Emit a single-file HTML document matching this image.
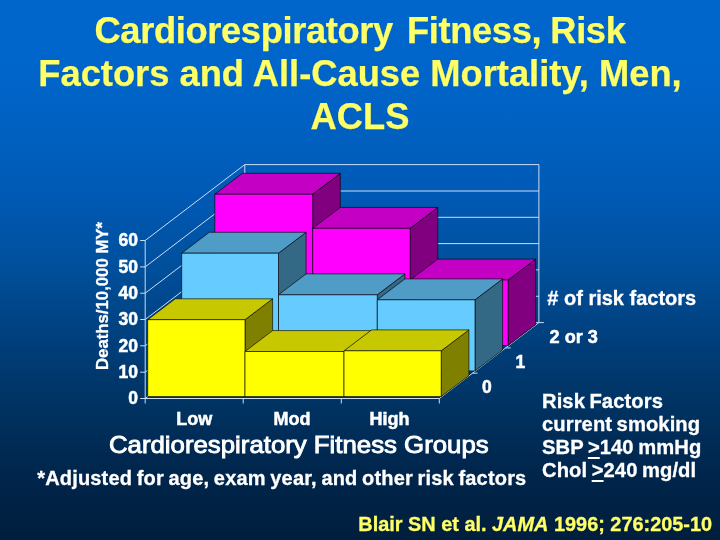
<!DOCTYPE html>
<html><head><meta charset="utf-8"><title>Cardiorespiratory Fitness, Risk Factors and All-Cause Mortality, Men, ACLS</title>
<style>
html,body{margin:0;padding:0}
body{width:720px;height:540px;overflow:hidden;position:relative;font-family:"Liberation Sans",Arial,sans-serif;font-weight:bold;color:#fff;
background:linear-gradient(to bottom,#0066cc 0%,#0065ca 13%,#0060c0 25%,#0059b4 37%,#004f9a 50%,#003f7c 63%,#003362 75%,#00264d 87%,#001e3d 100%)}
.t{position:absolute;white-space:nowrap;line-height:1}
#title{left:0;width:720px;top:8.7px;text-align:center;font-size:36.3px;line-height:43px;color:#ffff66;white-space:normal;-webkit-text-stroke:.25px #ffff66}
svg{position:absolute;left:0;top:0}
.ax{font-size:17.5px}
.k{-webkit-text-stroke:.5px #fff}
u{text-underline-offset:3.2px;text-decoration-thickness:1.6px}
.k2{-webkit-text-stroke:.3px #fff}
</style></head><body>
<div id="title" class="t"><span style="letter-spacing:-0.36px;word-spacing:3px"><span id="w1">Cardiorespiratory</span> <span id="w2" style="margin-left:1.3px">Fitness,</span> <span id="w3" style="margin-left:-3.7px">Risk</span></span><br>Factors and All-Cause Mortality, Men,<br>ACLS</div>
<svg width="720" height="540" viewBox="0 0 720 540" shape-rendering="auto">
<polyline fill="none" stroke="#c9ddf4" stroke-width="1" points="145.2,398.5 244.8,322.6 538.9,322.6"/>
<polyline fill="none" stroke="#c9ddf4" stroke-width="1" points="145.2,372.2 244.8,296.3 538.9,296.3"/>
<polyline fill="none" stroke="#c9ddf4" stroke-width="1" points="145.2,345.8 244.8,269.9 538.9,269.9"/>
<polyline fill="none" stroke="#c9ddf4" stroke-width="1" points="145.2,319.5 244.8,243.6 538.9,243.6"/>
<polyline fill="none" stroke="#c9ddf4" stroke-width="1" points="145.2,293.2 244.8,217.3 538.9,217.3"/>
<polyline fill="none" stroke="#c9ddf4" stroke-width="1" points="145.2,266.9 244.8,191.0 538.9,191.0"/>
<polyline fill="none" stroke="#c9ddf4" stroke-width="1" points="145.2,240.5 244.8,164.6 538.9,164.6"/>
<line stroke="#c9ddf4" x1="244.8" y1="322.6" x2="244.8" y2="164.6"/>
<line stroke="#c9ddf4" x1="538.9" y1="322.6" x2="538.9" y2="164.6"/>
<line stroke="#c9ddf4" x1="145.2" y1="398.5" x2="145.2" y2="240.5"/>
<polyline fill="none" stroke="#c9ddf4" points="145.2,398.5 439.3,398.5 538.9,322.6"/>
<line stroke="#c9ddf4" x1="140.2" y1="398.5" x2="145.2" y2="398.5"/>
<line stroke="#c9ddf4" x1="140.2" y1="372.2" x2="145.2" y2="372.2"/>
<line stroke="#c9ddf4" x1="140.2" y1="345.8" x2="145.2" y2="345.8"/>
<line stroke="#c9ddf4" x1="140.2" y1="319.5" x2="145.2" y2="319.5"/>
<line stroke="#c9ddf4" x1="140.2" y1="293.2" x2="145.2" y2="293.2"/>
<line stroke="#c9ddf4" x1="140.2" y1="266.9" x2="145.2" y2="266.9"/>
<line stroke="#c9ddf4" x1="140.2" y1="240.5" x2="145.2" y2="240.5"/>
<line stroke="#c9ddf4" x1="145.2" y1="398.5" x2="145.2" y2="403.5"/>
<line stroke="#c9ddf4" x1="243.2" y1="398.5" x2="243.2" y2="403.5"/>
<line stroke="#c9ddf4" x1="341.3" y1="398.5" x2="341.3" y2="403.5"/>
<line stroke="#c9ddf4" x1="439.3" y1="398.5" x2="439.3" y2="403.5"/>
<line stroke="#c9ddf4" x1="472.5" y1="373.2" x2="477.5" y2="373.2"/>
<line stroke="#c9ddf4" x1="505.7" y1="347.9" x2="510.7" y2="347.9"/>
<line stroke="#c9ddf4" x1="538.9" y1="322.6" x2="543.9" y2="322.6"/>
<polygon fill="#800080" stroke="#000" stroke-opacity=".7" stroke-width=".9" stroke-linejoin="round" points="312.7,345.5 340.3,324.6 340.3,173.3 312.7,194.2"/>
<polygon fill="#c400c4" stroke="#000" stroke-opacity=".7" stroke-width=".9" stroke-linejoin="round" points="214.8,194.2 242.4,173.3 340.3,173.3 312.7,194.2"/>
<polygon fill="#ff00ff" stroke="#000" stroke-opacity=".7" stroke-width=".9" stroke-linejoin="round" points="214.8,194.2 312.7,194.2 312.7,345.5 214.8,345.5"/>
<polygon fill="#800080" stroke="#000" stroke-opacity=".7" stroke-width=".9" stroke-linejoin="round" points="410.2,345.5 437.8,324.6 437.8,207.4 410.2,228.3"/>
<polygon fill="#c400c4" stroke="#000" stroke-opacity=".7" stroke-width=".9" stroke-linejoin="round" points="312.7,228.3 340.3,207.4 437.8,207.4 410.2,228.3"/>
<polygon fill="#ff00ff" stroke="#000" stroke-opacity=".7" stroke-width=".9" stroke-linejoin="round" points="312.7,228.3 410.2,228.3 410.2,345.5 312.7,345.5"/>
<polygon fill="#800080" stroke="#000" stroke-opacity=".7" stroke-width=".9" stroke-linejoin="round" points="508.1,345.5 535.7,324.6 535.7,259.1 508.1,280.0"/>
<polygon fill="#c400c4" stroke="#000" stroke-opacity=".7" stroke-width=".9" stroke-linejoin="round" points="410.2,280.0 437.8,259.1 535.7,259.1 508.1,280.0"/>
<polygon fill="#ff00ff" stroke="#000" stroke-opacity=".7" stroke-width=".9" stroke-linejoin="round" points="410.2,280.0 508.1,280.0 508.1,345.5 410.2,345.5"/>
<polygon fill="#336985" stroke="#000" stroke-opacity=".7" stroke-width=".9" stroke-linejoin="round" points="278.5,370.9 306.1,350.0 306.1,232.3 278.5,253.2"/>
<polygon fill="#4f9dc6" stroke="#000" stroke-opacity=".7" stroke-width=".9" stroke-linejoin="round" points="181.7,253.2 209.3,232.3 306.1,232.3 278.5,253.2"/>
<polygon fill="#66ccff" stroke="#000" stroke-opacity=".7" stroke-width=".9" stroke-linejoin="round" points="181.7,253.2 278.5,253.2 278.5,370.9 181.7,370.9"/>
<polygon fill="#336985" stroke="#000" stroke-opacity=".7" stroke-width=".9" stroke-linejoin="round" points="377.3,370.9 404.9,350.0 404.9,273.9 377.3,294.8"/>
<polygon fill="#4f9dc6" stroke="#000" stroke-opacity=".7" stroke-width=".9" stroke-linejoin="round" points="278.5,294.8 306.1,273.9 404.9,273.9 377.3,294.8"/>
<polygon fill="#66ccff" stroke="#000" stroke-opacity=".7" stroke-width=".9" stroke-linejoin="round" points="278.5,294.8 377.3,294.8 377.3,370.9 278.5,370.9"/>
<polygon fill="#336985" stroke="#000" stroke-opacity=".7" stroke-width=".9" stroke-linejoin="round" points="475.0,370.9 502.6,350.0 502.6,278.9 475.0,299.8"/>
<polygon fill="#4f9dc6" stroke="#000" stroke-opacity=".7" stroke-width=".9" stroke-linejoin="round" points="377.3,299.8 404.9,278.9 502.6,278.9 475.0,299.8"/>
<polygon fill="#66ccff" stroke="#000" stroke-opacity=".7" stroke-width=".9" stroke-linejoin="round" points="377.3,299.8 475.0,299.8 475.0,370.9 377.3,370.9"/>
<polygon fill="#808000" stroke="#000" stroke-opacity=".7" stroke-width=".9" stroke-linejoin="round" points="245.0,396.6 272.6,375.7 272.6,298.8 245.0,319.7"/>
<polygon fill="#c8c800" stroke="#000" stroke-opacity=".7" stroke-width=".9" stroke-linejoin="round" points="147.7,319.7 175.3,298.8 272.6,298.8 245.0,319.7"/>
<polygon fill="#ffff00" stroke="#000" stroke-opacity=".7" stroke-width=".9" stroke-linejoin="round" points="147.7,319.7 245.0,319.7 245.0,396.6 147.7,396.6"/>
<polygon fill="#808000" stroke="#000" stroke-opacity=".7" stroke-width=".9" stroke-linejoin="round" points="344.0,396.6 371.6,375.7 371.6,330.6 344.0,351.5"/>
<polygon fill="#c8c800" stroke="#000" stroke-opacity=".7" stroke-width=".9" stroke-linejoin="round" points="245.0,351.5 272.6,330.6 371.6,330.6 344.0,351.5"/>
<polygon fill="#ffff00" stroke="#000" stroke-opacity=".7" stroke-width=".9" stroke-linejoin="round" points="245.0,351.5 344.0,351.5 344.0,396.6 245.0,396.6"/>
<polygon fill="#808000" stroke="#000" stroke-opacity=".7" stroke-width=".9" stroke-linejoin="round" points="441.2,396.6 468.9,375.7 468.9,329.9 441.2,350.8"/>
<polygon fill="#c8c800" stroke="#000" stroke-opacity=".7" stroke-width=".9" stroke-linejoin="round" points="344.0,350.8 371.6,329.9 468.9,329.9 441.2,350.8"/>
<polygon fill="#ffff00" stroke="#000" stroke-opacity=".7" stroke-width=".9" stroke-linejoin="round" points="344.0,350.8 441.2,350.8 441.2,396.6 344.0,396.6"/>
</svg>
<div id="yl" class="t k2" style="left:94.6px;top:369.6px;font-size:16.75px;transform-origin:0 0;transform:rotate(-90deg)">Deaths/10,000 MY*</div>
<div id="v0" class="t ax k" style="right:582.0px;top:390.3px">0</div>
<div id="v1" class="t ax k" style="right:582.0px;top:364.0px">10</div>
<div id="v2" class="t ax k" style="right:582.0px;top:337.6px">20</div>
<div id="v3" class="t ax k" style="right:582.0px;top:311.3px">30</div>
<div id="v4" class="t ax k" style="right:582.0px;top:285.0px">40</div>
<div id="v5" class="t ax k" style="right:582.0px;top:258.7px">50</div>
<div id="v6" class="t ax k" style="right:582.0px;top:232.3px">60</div>
<div id="c0" class="t k" style="font-size:18px;left:194.2px;top:410.2px;transform:translateX(-50%)">Low</div>
<div id="c1" class="t k" style="font-size:18px;left:292.0px;top:410.2px;transform:translateX(-50%)">Mod</div>
<div id="c2" class="t k" style="font-size:18px;left:389.4px;top:410.2px;transform:translateX(-50%)">High</div>
<div id="xt" class="t" style="left:109.4px;top:433.1px;font-size:24px;font-weight:normal;-webkit-text-stroke:.9px #fff;transform-origin:0 0;transform:scaleX(1.074)">Cardiorespiratory Fitness Groups</div>
<div id="fn" class="t k2" style="left:37.2px;top:467.8px;font-size:20px;letter-spacing:.18px;word-spacing:-1.15px">*Adjusted for age, exam year, and other risk factors</div>
<div id="nr" class="t k2" style="left:547.3px;top:288.1px;font-size:20px"># of risk factors</div>
<div id="s2" class="t ax k" style="left:549.6px;top:327.9px;font-size:18.1px">2 or 3</div>
<div id="s1" class="t ax k" style="left:515.5px;top:353.7px">1</div>
<div id="s0" class="t ax k" style="left:482px;top:379px">0</div>
<div id="rf" class="t k2" style="left:542px;top:389.6px;font-size:20.2px;line-height:23.25px;word-spacing:-1.2px;letter-spacing:.08px;white-space:normal;width:180px">Risk Factors<br>current smoking<br>SBP <u>&gt;</u>140 mmHg<br>Chol <u>&gt;</u>240 mg/dl</div>
<div id="ref" class="t" style="left:358.3px;top:515.4px;font-size:19.9px;color:#ffff66;-webkit-text-stroke:.3px #ffff66">Blair SN et al. <i>JAMA</i> 1996; 276:205-10</div>
</body></html>
